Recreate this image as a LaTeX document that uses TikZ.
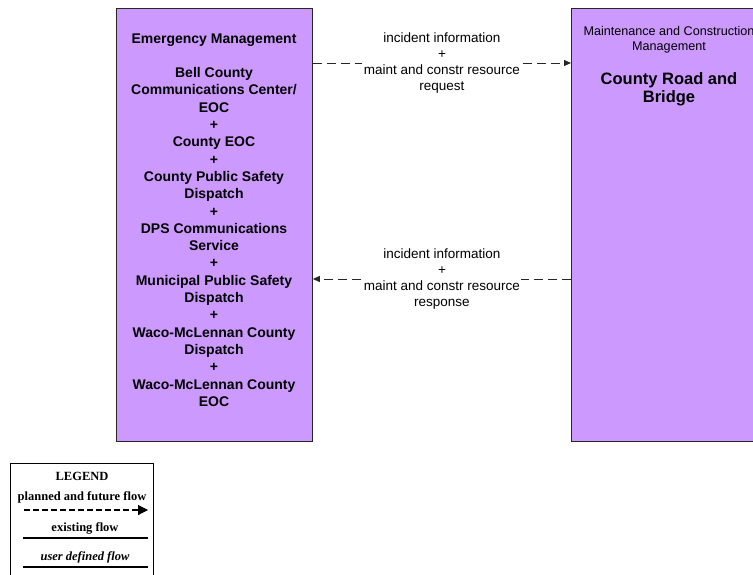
\documentclass[tikz,border=0pt]{standalone}
\usepackage{fontspec}
\setmainfont{Liberation Sans}
\newfontfamily\legendfont{Liberation Serif}
\usetikzlibrary{arrows.meta}
\definecolor{boxfill}{HTML}{CC99FF}
\begin{document}
\begin{tikzpicture}[x=1pt,y=-1pt,
  sysbox/.style={draw=black!85, line width=0.9pt, fill=boxfill, inner sep=0pt, anchor=north west},
  flow/.style={draw=black!85, line width=1pt, dash pattern=on 9pt off 5pt, -{Triangle[length=7pt,width=6pt]}},
  flowlabel/.style={fill=white, inner sep=1.5pt, align=center, font=\fontsize{13.5}{15.8}\selectfont},
  boldtext/.style={align=center, inner sep=0pt, font=\bfseries\fontsize{14}{17.3}\selectfont},
  legtext/.style={inner sep=0pt, font=\legendfont\bfseries\fontsize{12.5}{13}\selectfont},
  legline/.style={draw=black, line width=1.1pt},
]
\useasboundingbox (0,0) rectangle (753,574);
\fill[white] (0,0) rectangle (753,574);

% system boxes
\node[sysbox, minimum width=196pt, minimum height=433pt] (em) at (116,8) {};
\node[sysbox, minimum width=196pt, minimum height=433pt] (crb) at (571,8) {};

% left box texts
\node[boldtext] (emtitle) at (214,40) {Emergency Management};
\node[boldtext] (emlist) at (214,237) {Bell County\\Communications Center/\\EOC\\+\\County EOC\\+\\County Public Safety\\Dispatch\\+\\DPS Communications\\Service\\+\\Municipal Public Safety\\Dispatch\\+\\Waco-McLennan County\\Dispatch\\+\\Waco-McLennan County\\EOC};

% right box texts
\node[align=center, inner sep=0pt, font=\fontsize{12.6}{15}\selectfont] (crbtitle) at (669,40) {Maintenance and Construction\\Management};
\node[align=center, inner sep=0pt, font=\bfseries\fontsize{16.5}{18}\selectfont] (crbname) at (669,89) {County Road and\\Bridge};

% flows
\coordinate (ytop) at (0,63);
\coordinate (ybot) at (0,279);
\draw[flow] (em.east |- ytop) -- node[flowlabel] (lab1) {incident information\\+\\maint and constr resource\\request} (crb.west |- ytop);
\draw[flow] (crb.west |- ybot) -- node[flowlabel] (lab2) {incident information\\+\\maint and constr resource\\response} (em.east |- ybot);

% legend
\node[draw=black, line width=1pt, inner sep=0pt, anchor=north west, minimum width=143pt, minimum height=130pt] (legend) at (10,463) {};
\node[legtext] (legtitle) at (82,476) {LEGEND};
\node[legtext] (legplanned) at (82,497) {planned and future flow};
\coordinate (lp1) at (24,510);
\coordinate (lp2) at (148,510);
\draw[legline, dash pattern=on 5.5pt off 3.5pt, -{Triangle[length=10pt,width=10pt]}] (lp1) -- (lp2);
\node[legtext] (legexist) at (85,528) {existing flow};
\coordinate (le1) at (23,538);
\coordinate (le2) at (148,538);
\draw[legline] (le1) -- (le2);
\node[legtext, font=\legendfont\bfseries\itshape\fontsize{12.5}{13}\selectfont] (leguser) at (85,557) {user defined flow};
\coordinate (lu1) at (23,567);
\coordinate (lu2) at (148,567);
\draw[legline] (lu1) -- (lu2);
\end{tikzpicture}
\end{document}
